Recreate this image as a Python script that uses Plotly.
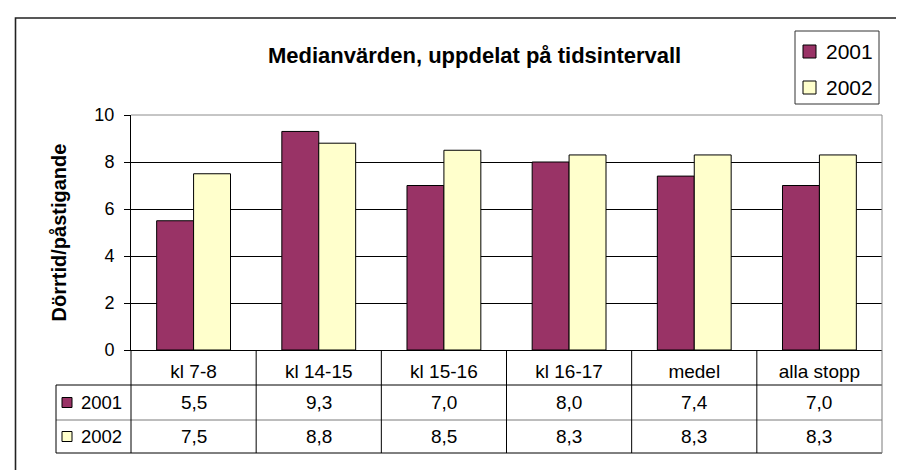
import plotly.graph_objects as go

categories = ["kl 7-8", "kl 14-15", "kl 15-16", "kl 16-17", "medel", "alla stopp"]
series_names = ["2001", "2002"]
values_2001 = [5.5, 9.3, 7.0, 8.0, 7.4, 7.0]
values_2002 = [7.5, 8.8, 8.5, 8.3, 8.3, 8.3]
y_ticks = [0, 2, 4, 6, 8, 10]
title_text = "Medianvärden, uppdelat på tidsintervall"
y_title = "Dörrtid/påstigande"

colors = ["#993366", "#FFFFCC"]
FONT = "Arial, Liberation Sans, sans-serif"

W, H = 904, 470
L, R, T, B = 123, 30, 107, 128
PW = W - L - R
PH = H - T - B


def px_x(p):
    return (p - L) / PW


def px_y(p):
    return (H - B - p) / PH


fig = go.Figure()
for name, vals, col in zip(series_names, [values_2001, values_2002], colors):
    fig.add_trace(go.Bar(
        x=categories, y=vals, name=name, showlegend=False,
        marker=dict(color=col, line=dict(color="black", width=1)),
    ))

shapes = []
annotations = []

# outer chart frame
shapes.append(dict(type="rect", xref="paper", yref="paper",
                   x0=px_x(7.5), x1=px_x(915), y0=px_y(480), y1=px_y(10),
                   line=dict(color="#222222", width=1.6), layer="below"))
# plot border top/right gray
shapes.append(dict(type="line", xref="paper", yref="paper", x0=0, x1=1, y0=1, y1=1,
                   line=dict(color="#8c8c8c", width=1), layer="above"))
shapes.append(dict(type="line", xref="paper", yref="paper", x0=1, x1=1, y0=0, y1=1,
                   line=dict(color="#8c8c8c", width=1), layer="above"))

# legend (top right)
shapes.append(dict(type="rect", xref="paper", yref="paper",
                   x0=px_x(787), x1=px_x(871), y0=px_y(96), y1=px_y(23),
                   fillcolor="white", line=dict(color="#333333", width=1)))
for name, col, yc in zip(series_names, colors, [43.5, 79.5]):
    shapes.append(dict(type="rect", xref="paper", yref="paper",
                       xsizemode="pixel", ysizemode="pixel",
                       xanchor=px_x(795), yanchor=px_y(yc),
                       x0=0, x1=13, y0=-6.5, y1=6.5,
                       fillcolor=col, line=dict(color="black", width=1)))
    annotations.append(dict(xref="paper", yref="paper", x=px_x(816), y=px_y(yc),
                            xanchor="left", yanchor="middle", showarrow=False,
                            text=name, font=dict(family=FONT, size=21, color="black")))

# data table geometry
row_top = [px_y(342), px_y(377), px_y(412)]
row_bot = px_y(445)
tab_left = px_x(48)
n = len(categories)

# horizontal lines
shapes.append(dict(type="line", xref="paper", yref="paper", x0=tab_left, x1=1,
                   y0=row_top[1], y1=row_top[1], line=dict(color="black", width=1)))
shapes.append(dict(type="line", xref="paper", yref="paper", x0=tab_left, x1=1,
                   y0=row_top[2], y1=row_top[2], line=dict(color="#7a7a7a", width=1)))
shapes.append(dict(type="line", xref="paper", yref="paper", x0=tab_left, x1=1,
                   y0=row_bot, y1=row_bot, line=dict(color="black", width=1)))
# vertical lines
shapes.append(dict(type="line", xref="paper", yref="paper", x0=tab_left, x1=tab_left,
                   y0=row_bot, y1=row_top[1], line=dict(color="black", width=1)))
shapes.append(dict(type="line", xref="paper", yref="paper", x0=0, x1=0,
                   y0=row_bot, y1=0, line=dict(color="black", width=1)))
for i in range(1, n):
    shapes.append(dict(type="line", xref="x", yref="paper", x0=i - 0.5, x1=i - 0.5,
                       y0=row_bot, y1=0, line=dict(color="black", width=1)))
shapes.append(dict(type="line", xref="paper", yref="paper", x0=1, x1=1,
                   y0=row_bot, y1=0, line=dict(color="#7a7a7a", width=1)))

# table rows
for r, (name, vals, col) in enumerate(zip(series_names, [values_2001, values_2002], colors)):
    yc = (row_top[r + 1] + (row_top[r + 2] if r + 2 < len(row_top) else row_bot)) / 2
    shapes.append(dict(type="rect", xref="paper", yref="paper",
                       xsizemode="pixel", ysizemode="pixel",
                       xanchor=tab_left, yanchor=yc,
                       x0=6, x1=16, y0=-5, y1=5,
                       fillcolor=col, line=dict(color="black", width=1)))
    annotations.append(dict(xref="paper", yref="paper", x=px_x(71), y=yc,
                            xanchor="left", yanchor="middle", showarrow=False,
                            text=name, font=dict(family=FONT, size=18.5, color="black")))
    for c, v in zip(categories, vals):
        annotations.append(dict(xref="x", yref="paper", x=c, y=yc,
                                xanchor="center", yanchor="middle", showarrow=False,
                                text=f"{v:.1f}".replace(".", ","),
                                font=dict(family=FONT, size=19, color="black")))

# title
annotations.append(dict(xref="paper", yref="paper", x=px_x(466), y=px_y(48),
                        xanchor="center", yanchor="middle", showarrow=False,
                        text=f"<b>{title_text}</b>",
                        font=dict(family=FONT, size=22, color="black")))

fig.update_layout(
    width=W, height=H,
    margin=dict(l=L, r=R, t=T, b=B, autoexpand=False),
    paper_bgcolor="white", plot_bgcolor="white",
    barmode="group", bargap=0.41, bargroupgap=0,
    font=dict(family=FONT, color="black"),
    showlegend=False,
    shapes=shapes, annotations=annotations,
    xaxis=dict(showgrid=False, showline=True, linecolor="black", linewidth=1,
               ticks="", tickfont=dict(family=FONT, size=19, color="black"),
               ticklabelstandoff=4, zeroline=False),
    yaxis=dict(range=[0, 10], tickvals=y_ticks, showgrid=True, gridcolor="black",
               gridwidth=1, showline=True, linecolor="black", linewidth=1,
               ticks="outside", ticklen=6, tickcolor="black",
               tickfont=dict(family=FONT, size=18, color="black"),
               ticklabelstandoff=6, zeroline=False,
               title=dict(text=f"<b>{y_title}</b>", standoff=22,
                          font=dict(family=FONT, size=20, color="black"))),
)

fig.write_html("out.html")
